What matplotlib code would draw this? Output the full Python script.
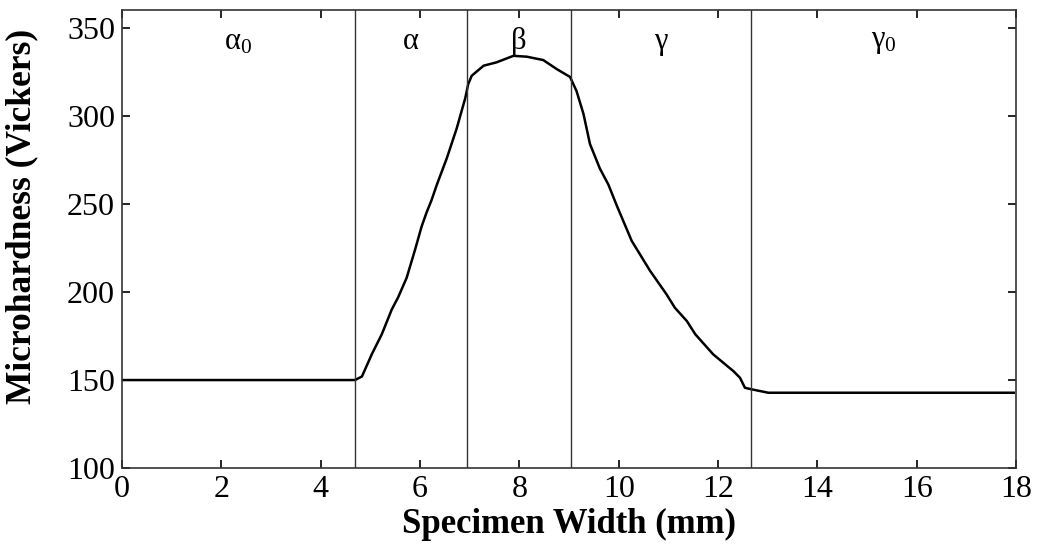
import matplotlib
matplotlib.use("Agg")
import matplotlib.pyplot as plt

plt.rcParams['font.family'] = ['Liberation Serif', 'DejaVu Serif']
plt.rcParams['mathtext.fontset'] = 'custom'
plt.rcParams['mathtext.rm'] = 'Liberation Serif'

####### data #######
width_mm = [0.0, 4.69, 4.83, 5.03, 5.23, 5.43, 5.56, 5.73, 5.9, 6.03, 6.13, 6.23,
            6.34, 6.54, 6.74, 6.91, 6.97, 7.04, 7.28, 7.54, 7.88, 8.15, 8.48, 8.75,
            9.02, 9.15, 9.29, 9.42, 9.62, 9.79, 9.96, 10.26, 10.63, 10.96, 11.13,
            11.37, 11.54, 11.9, 12.31, 12.44, 12.54, 12.68, 13.01, 17.95]
hardness = [150, 150, 152, 164.7, 176, 190, 197, 208, 224, 237, 245, 252,
            261, 276, 293, 310, 318, 322.7, 328.4, 330.3, 334, 333.5, 331.6, 326.5,
            322, 314, 301, 284, 270, 261, 249, 229, 212, 198.7, 191,
            183.5, 176, 164.6, 155, 151.3, 145.6, 144.7, 142.8, 142.8]

zone_bounds = [4.69, 6.95, 9.04, 12.66]
zone_labels = [r'$\mathrm{α_0}$', 'α', 'β', 'γ', r'$\mathrm{γ_0}$']

X_MIN, X_MAX = 0, 18
Y_MIN, Y_MAX = 100, 360

fig = plt.figure(figsize=(10.38, 5.56), dpi=100)
ax = fig.add_axes([0.1175, 0.158, 0.8615, 0.824])

ax.plot(width_mm, hardness, color='black', lw=1.8)

for b in zone_bounds:
    ax.axvline(b, color='#333333', lw=1.0)

# region names centred between the boundaries
edges = [X_MIN] + zone_bounds + [X_MAX]
for i, lab in enumerate(zone_labels):
    ax.text((edges[i] + edges[i + 1]) / 2, 342, lab, ha='center', va='center',
            fontsize=22)

ax.set_xlim(X_MIN, X_MAX)
ax.set_ylim(Y_MIN, Y_MAX)
ax.set_xticks(range(0, 19, 2))
ax.set_yticks(range(100, 351, 50))
ax.tick_params(direction='in', top=True, right=True, length=6, width=1.2,
               labelsize=23, pad=5)
for s in ax.spines.values():
    s.set_linewidth(1.2)
    s.set_color('#333333')

ax.set_xlabel('Specimen Width (mm)', fontsize=25, fontweight='bold', labelpad=3)
ax.set_ylabel('Microhardness (Vickers)', fontsize=25.5, fontweight='bold')
ax.yaxis.set_label_coords(-0.094, 0.55)

fig.savefig('out.png', dpi=100)
